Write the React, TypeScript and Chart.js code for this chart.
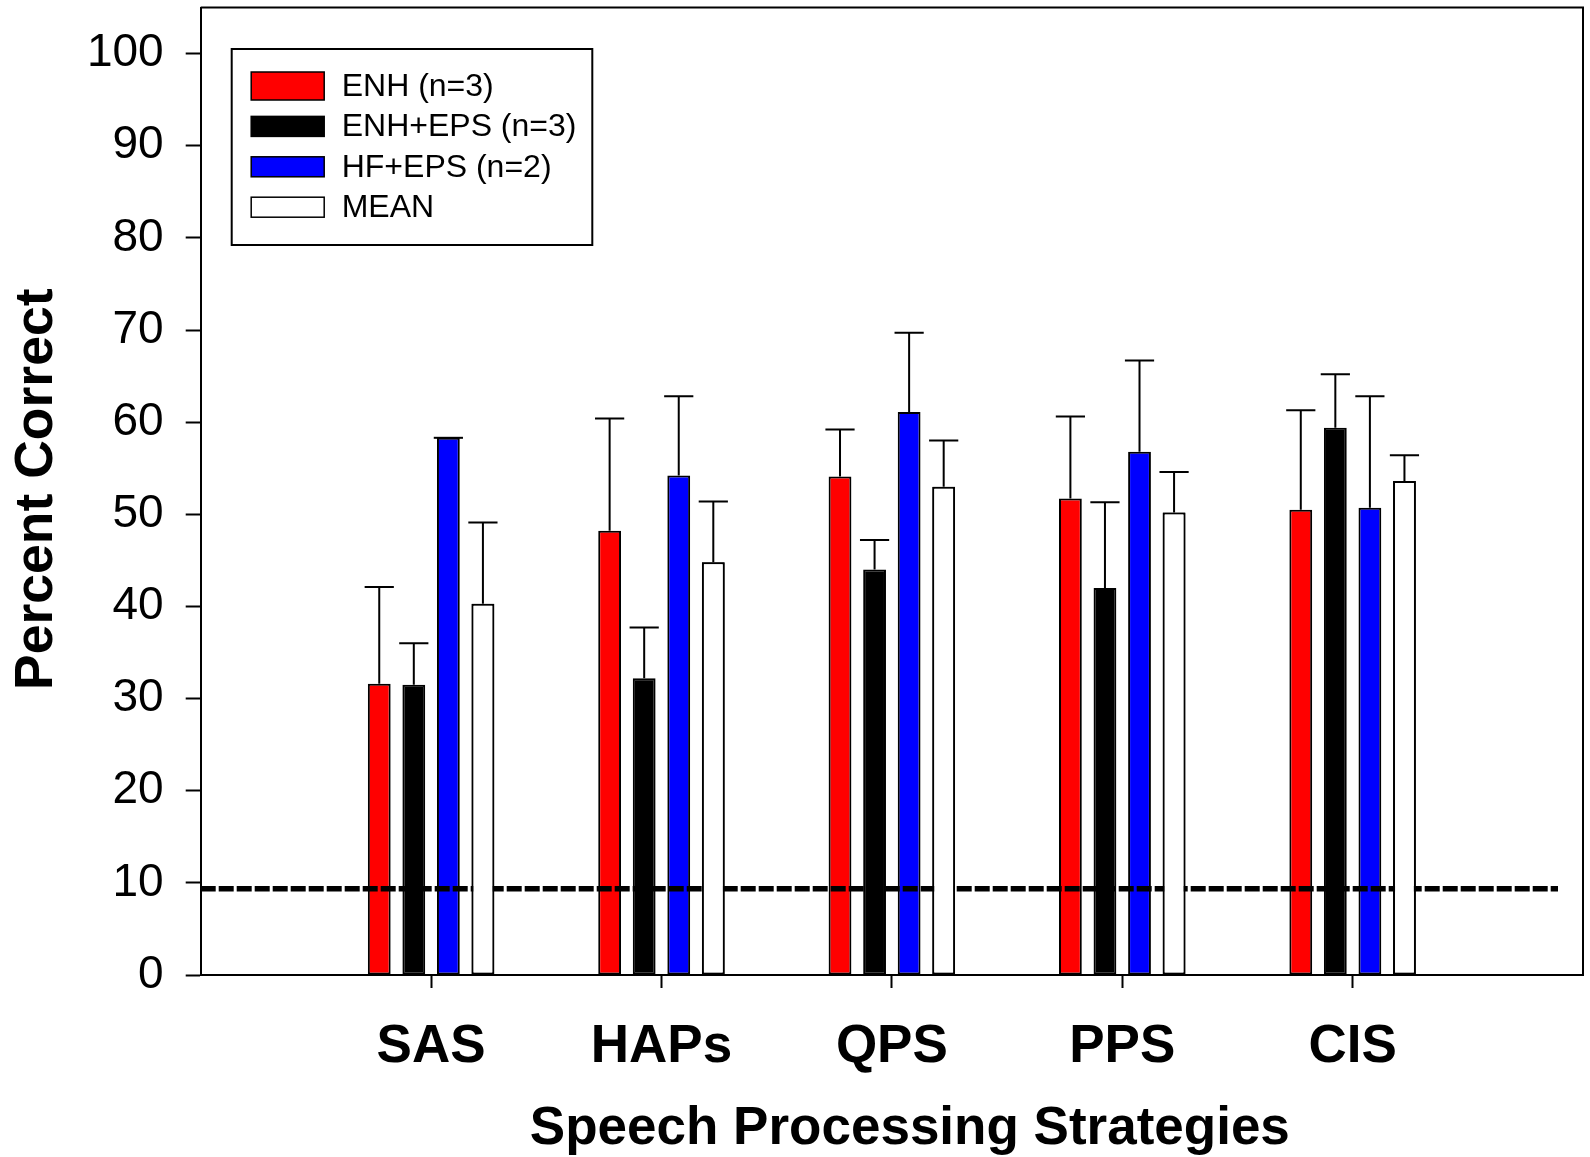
import React, { useEffect, useRef } from 'react';
import { Chart, registerables } from 'chart.js';

Chart.register(...registerables);

// ---- Data ----
const categories = ['SAS', 'HAPs', 'QPS', 'PPS', 'CIS'];
const seriesNames = ['ENH (n=3)', 'ENH+EPS (n=3)', 'HF+EPS (n=2)', 'MEAN'];
const enhValues = [31.6, 48.2, 54.1, 51.7, 50.5];
const enhErrors = [10.5, 12.2, 5.1, 8.9, 10.8];
const enhEpsValues = [31.5, 32.2, 44.0, 42.0, 59.4];
const enhEpsErrors = [4.5, 5.5, 3.2, 9.3, 5.8];
const hfEpsValues = [58.3, 54.2, 61.1, 56.8, 50.7];
const hfEpsErrors = [0, 8.6, 8.6, 9.9, 12.1];
const meanValues = [40.3, 44.8, 53.0, 50.2, 53.6];
const meanErrors = [8.8, 6.6, 5.0, 4.4, 2.8];
const chanceLevel = 9.35;
const yTickValues = [0, 10, 20, 30, 40, 50, 60, 70, 80, 90, 100];
const yMax = 105;
const xTitle = 'Speech Processing Strategies';
const yTitle = 'Percent Correct';

const seriesColors = ['#ff0000', '#000000', '#0000ff', '#ffffff'];
const FONT = "'Liberation Sans', Arial, Helvetica, sans-serif";

const pad = (arr: number[]) => [null, ...arr, null];
const xLabels = ['', ...categories, ''];

const errorSets = [enhErrors, enhEpsErrors, hfEpsErrors, meanErrors];

const overlayPlugin = {
  id: 'overlay',
  afterDatasetsDraw(chart: any) {
    const { ctx, chartArea, scales } = chart;
    const y = scales.y;
    ctx.save();
    // chance-level dashed line
    const yc = y.getPixelForValue(chanceLevel);
    ctx.beginPath();
    ctx.setLineDash([15, 3]);
    ctx.lineWidth = 5.5;
    ctx.strokeStyle = '#000';
    ctx.moveTo(chartArea.left, yc);
    ctx.lineTo(chartArea.right - 25, yc);
    ctx.stroke();
    ctx.setLineDash([]);
    // mean bars are drawn above the dashed line
    const meanMeta = chart.getDatasetMeta(3);
    meanMeta.data.forEach((el: any, i: number) => {
      const v = chart.data.datasets[3].data[i];
      if (v !== null && v !== undefined) el.draw(ctx);
    });
    // error bars (upper only)
    ctx.lineWidth = 2;
    ctx.strokeStyle = '#000';
    chart.data.datasets.forEach((ds: any, di: number) => {
      const meta = chart.getDatasetMeta(di);
      const errs = errorSets[di];
      meta.data.forEach((el: any, i: number) => {
        const v = ds.data[i];
        if (v === null || v === undefined) return;
        const e = errs[i - 1];
        const top = y.getPixelForValue(v + e);
        const x = el.x;
        ctx.beginPath();
        ctx.moveTo(x, el.y);
        ctx.lineTo(x, top);
        ctx.moveTo(x - 14.6, top);
        ctx.lineTo(x + 14.6, top);
        ctx.stroke();
      });
    });
    ctx.restore();
  },
  afterDraw(chart: any) {
    const { ctx, chartArea } = chart;
    ctx.save();
    // frame top and right
    ctx.strokeStyle = '#000';
    ctx.lineWidth = 2;
    ctx.beginPath();
    ctx.moveTo(chartArea.left, chartArea.top);
    ctx.lineTo(chartArea.right, chartArea.top);
    ctx.lineTo(chartArea.right, chartArea.bottom);
    ctx.stroke();
    // x-axis title
    ctx.fillStyle = '#000';
    ctx.font = `bold 53px ${FONT}`;
    ctx.textAlign = 'center';
    ctx.textBaseline = 'middle';
    ctx.fillText(xTitle, (chartArea.left + chartArea.right) / 2 + 18, chart.height - 28);
    // y-axis title
    ctx.save();
    ctx.translate(37.5, (chartArea.top + chartArea.bottom) / 2 - 2);
    ctx.rotate(-Math.PI / 2);
    ctx.font = `bold 53.5px ${FONT}`;
    ctx.fillText(yTitle, 0, 0);
    ctx.restore();
    // legend
    const bx = chartArea.left + 31;
    const by = chartArea.top + 41.5;
    const bw = 360.6;
    const bh = 196;
    ctx.fillStyle = '#fff';
    ctx.fillRect(bx, by, bw, bh);
    ctx.strokeRect(bx, by, bw, bh);
    const rowH = 40.4;
    const swH = [28, 20, 20, 20];
    ctx.font = `32px ${FONT}`;
    ctx.textBaseline = 'middle';
    ctx.textAlign = 'left';
    seriesNames.forEach((name, i) => {
      const cy = by + 37 + i * rowH;
      const sx = bx + 19.5;
      const sw = 73;
      ctx.fillStyle = seriesColors[i];
      ctx.fillRect(sx, cy - swH[i] / 2, sw, swH[i]);
      ctx.lineWidth = 1.5;
      ctx.strokeStyle = '#000';
      ctx.strokeRect(sx, cy - swH[i] / 2, sw, swH[i]);
      ctx.fillStyle = '#000';
      ctx.fillText(name, bx + 110, cy + 1);
    });
    ctx.restore();
  },
};

export default function App() {
  const canvasRef = useRef<HTMLCanvasElement | null>(null);

  useEffect(() => {
    const canvas = canvasRef.current;
    if (!canvas) return;
    const valueSets = [enhValues, enhEpsValues, hfEpsValues, meanValues];
    const chart = new Chart(canvas, {
      type: 'bar',
      data: {
        labels: xLabels,
        datasets: valueSets.map((vals, i) => ({
          label: seriesNames[i],
          data: pad(vals),
          backgroundColor: seriesColors[i],
          borderColor: '#000',
          borderWidth: 2,
          borderSkipped: false,
          categoryPercentage: 0.6,
          barPercentage: 0.66,
        })),
      },
      options: {
        responsive: false,
        animation: false,
        devicePixelRatio: 1,
        layout: { padding: { top: 7.5, right: 7, left: 0, bottom: 0 } },
        plugins: {
          legend: { display: false },
          tooltip: { enabled: false },
        },
        scales: {
          x: {
            type: 'category',
            offset: false,
            grid: {
              offset: false,
              drawOnChartArea: false,
              drawTicks: true,
              tickLength: 13,
              tickWidth: 2,
              tickColor: (c: any) =>
                c.index === 0 || c.index === xLabels.length - 1 ? 'rgba(0,0,0,0)' : '#000',
            },
            border: { display: true, color: '#000', width: 2 },
            ticks: {
              color: '#000',
              font: { family: FONT, size: 53, weight: 'bold' },
              padding: 28,
              maxRotation: 0,
              autoSkip: false,
            },
            title: { display: false },
            afterFit: (s: any) => {
              s.height = 182;
              s.paddingLeft = 0;
              s.paddingRight = 0;
              s.paddingTop = 0;
              s.paddingBottom = 0;
            },
          },
          y: {
            min: 0,
            max: yMax,
            afterBuildTicks: (s: any) => {
              s.ticks = yTickValues.map((v) => ({ value: v }));
            },
            grid: {
              drawOnChartArea: false,
              drawTicks: true,
              tickLength: 15,
              tickWidth: 2,
              tickColor: '#000',
            },
            border: { display: true, color: '#000', width: 2 },
            ticks: {
              color: '#000',
              font: { family: FONT, size: 46 },
              padding: 22,
            },
            title: { display: false },
            afterFit: (s: any) => {
              s.width = 200.7;
              s.paddingLeft = 0;
              s.paddingRight = 0;
              s.paddingTop = 0;
              s.paddingBottom = 0;
            },
          },
        },
      },
      plugins: [overlayPlugin],
    } as any);
    return () => chart.destroy();
  }, []);

  return (
    <div style={{ position: 'absolute', left: 0, top: 0, width: 1590, height: 1157, background: '#fff' }}>
      <canvas ref={canvasRef} width={1590} height={1157} style={{ width: 1590, height: 1157, display: 'block' }} />
    </div>
  );
}
